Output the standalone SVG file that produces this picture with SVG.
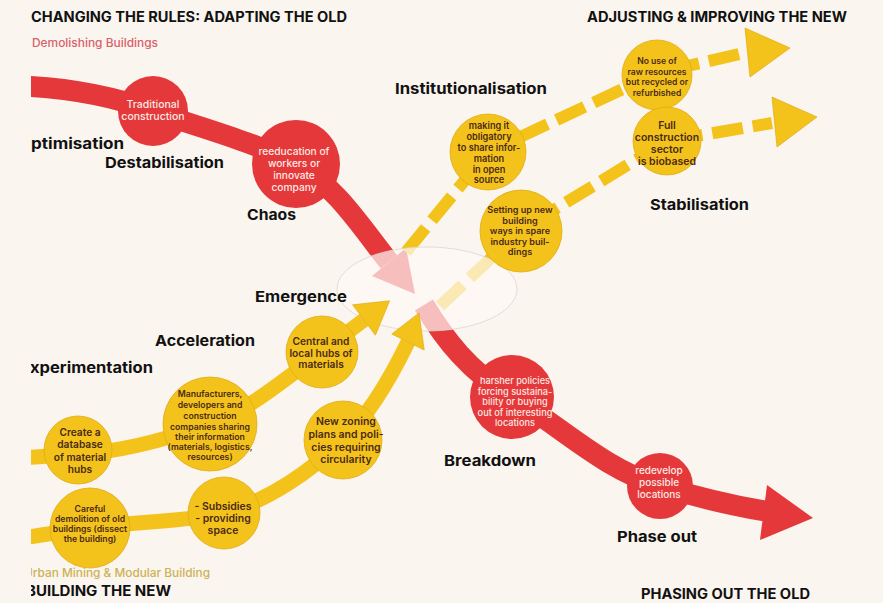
<svg xmlns="http://www.w3.org/2000/svg" width="883" height="603" viewBox="0 0 883 603">
  <defs>
    <clipPath id="page"><rect x="31" y="0" width="852" height="603"/></clipPath>
    <style>
      text{font-family:Inter,"Open Sans","Noto Sans",sans-serif}
      .band-r{fill:none;stroke:#e4383b;stroke-width:21}
      .band-y{fill:none;stroke:#f4c31b;stroke-width:15}
      .dash-y{fill:none;stroke:#f4c31b;stroke-width:12;stroke-dasharray:31 10}
      .head-r{fill:#e4383b}
      .head-y{fill:#f4c31b;stroke:#e0ab12;stroke-width:0.7}
      .node-r{fill:#e4383b}
      .node-y{fill:#f4c31b;stroke:#e0ab12;stroke-width:0.8}
      .zone{fill:#fdfaf5;fill-opacity:0.7;stroke:#d9d6d2;stroke-width:0.8}
      .head{font-weight:700;font-size:14px;fill:#111}
      .sub{font-weight:500;font-size:11.5px}
      .stage{font-weight:700;font-size:15px;fill:#111}
      .tr{fill:#fde9e2;text-anchor:middle;font-weight:500}
      .ty{fill:#4a2a18;text-anchor:middle;font-weight:600}
    </style>
  </defs>

  <rect width="883" height="603" fill="#fbf5ef"/>

  <g clip-path="url(#page)">
    <!-- connectors drawn beneath the emergence zone -->
    <g id="connectors">
      <!-- old regime: red band into the zone -->
      <path class="band-r" d="M20,86 C70,88 115,97 153,111 C200,128 250,140 296,164 C335,185 362,228 389,262"/>
      <polygon class="head-r" points="406,248 372,276 415,294"/>
      <!-- old regime: red band out of the zone -->
      <path class="band-r" d="M424,305 C445,340 470,372 512,397 C560,426 605,470 660,486 C700,498 735,506 765,511"/>
      <polygon class="head-r" points="767,485 760,540 813,518"/>
      <!-- new regime: dashed yellow paths -->
      <path class="dash-y" d="M406,252 L488,152 L657,73 L748,52"/>
      <polygon class="head-y" points="745,28 750,77 790,48"/>
      <path class="dash-y" d="M440,306 L521,230 L667,141 L772,123"/>
      <polygon class="head-y" points="772,97 777,147 817,117"/>
    </g>

    <g id="emergence-zone">
      <ellipse class="zone" cx="427" cy="289" rx="90" ry="42"/>
    </g>

    <!-- niche paths rising towards the zone -->
    <g id="connectors-niche">
      <path class="band-y" d="M20,458 C40,457 58,455 78,454 C120,452 165,440 210,424 C250,410 290,375 322,352 C338,340 350,330 364,320"/>
      <polygon class="head-y" points="352.6,304.8 375.4,335.2 389.6,300.8"/>
      <path class="band-y" d="M20,538 C45,535 65,531 90,528 C140,521 185,522 224,513 C270,500 312,470 343,440 C370,414 392,375 408,342"/>
      <polygon class="head-y" points="391.8,334 424.2,350 419,313"/>
    </g>

    <!-- titles -->
    <text class="head" x="31" y="22" textLength="316" lengthAdjust="spacingAndGlyphs">CHANGING THE RULES: ADAPTING THE OLD</text>
    <text class="sub" x="32" y="47" fill="#d8606a" textLength="126" lengthAdjust="spacingAndGlyphs">Demolishing Buildings</text>
    <text class="head" x="587" y="22" textLength="260" lengthAdjust="spacingAndGlyphs">ADJUSTING &amp; IMPROVING THE NEW</text>
    <text class="head" x="641" y="599" textLength="169" lengthAdjust="spacingAndGlyphs">PHASING OUT THE OLD</text>
    <text class="sub" x="24" y="577" fill="#cbb255" textLength="186" lengthAdjust="spacingAndGlyphs">Urban Mining &amp; Modular Building</text>
    <text class="head" x="26" y="596" textLength="145" lengthAdjust="spacingAndGlyphs">BUILDING THE NEW</text>

    <!-- phase labels -->
    <text class="stage" x="18" y="149" textLength="106" lengthAdjust="spacingAndGlyphs">Optimisation</text>
    <text class="stage" x="105" y="168" textLength="119" lengthAdjust="spacingAndGlyphs">Destabilisation</text>
    <text class="stage" x="247" y="220" textLength="49" lengthAdjust="spacingAndGlyphs">Chaos</text>
    <text class="stage" x="395" y="94" textLength="152" lengthAdjust="spacingAndGlyphs">Institutionalisation</text>
    <text class="stage" x="650" y="210" textLength="99" lengthAdjust="spacingAndGlyphs">Stabilisation</text>
    <text class="stage" x="255" y="302" textLength="92" lengthAdjust="spacingAndGlyphs">Emergence</text>
    <text class="stage" x="155" y="346" textLength="100" lengthAdjust="spacingAndGlyphs">Acceleration</text>
    <text class="stage" x="20" y="373" textLength="133" lengthAdjust="spacingAndGlyphs">Experimentation</text>
    <text class="stage" x="444" y="466" textLength="92" lengthAdjust="spacingAndGlyphs">Breakdown</text>
    <text class="stage" x="617" y="542" textLength="80" lengthAdjust="spacingAndGlyphs">Phase out</text>

    <!-- red nodes -->
    <g id="traditional-construction">
      <circle class="node-r" cx="153" cy="111" r="35"/>
      <text class="tr" font-size="10.5"><tspan x="153" y="108">Traditional</tspan><tspan x="153" y="120">construction</tspan></text>
    </g>
    <g id="reeducation">
      <circle class="node-r" cx="296" cy="164" r="44"/>
      <text class="tr" font-size="10.2"><tspan x="294" y="155">reeducation of</tspan><tspan x="294" y="167">workers or</tspan><tspan x="294" y="179">innovate</tspan><tspan x="294" y="191">company</tspan></text>
    </g>
    <g id="harsher-policies">
      <circle class="node-r" cx="512" cy="397" r="42"/>
      <text class="tr" font-size="9.2"><tspan x="515" y="384">harsher policies</tspan><tspan x="515" y="394.5">forcing sustaina-</tspan><tspan x="515" y="405">bility or buying</tspan><tspan x="515" y="415.5">out of interesting</tspan><tspan x="515" y="426">locations</tspan></text>
    </g>
    <g id="redevelop">
      <circle class="node-r" cx="660" cy="486" r="33"/>
      <text class="tr" font-size="10"><tspan x="659" y="474">redevelop</tspan><tspan x="659" y="486">possible</tspan><tspan x="659" y="498">locations</tspan></text>
    </g>

    <!-- yellow nodes: new regime -->
    <g id="open-source">
      <circle class="node-y" cx="488" cy="152" r="38"/>
      <text class="ty" font-size="9.2"><tspan x="489" y="129">making it</tspan><tspan x="489" y="140">obligatory</tspan><tspan x="489" y="151">to share infor-</tspan><tspan x="489" y="162">mation</tspan><tspan x="489" y="173">in open</tspan><tspan x="489" y="183">source</tspan></text>
    </g>
    <g id="spare-industry">
      <circle class="node-y" cx="521" cy="231" r="41"/>
      <text class="ty" font-size="9.1"><tspan x="520" y="213">Setting up new</tspan><tspan x="520" y="223.5">building</tspan><tspan x="520" y="234">ways in spare</tspan><tspan x="520" y="244.5">industry buil-</tspan><tspan x="520" y="255">dings</tspan></text>
    </g>
    <g id="no-raw-resources">
      <circle class="node-y" cx="657" cy="75" r="35"/>
      <text class="ty" font-size="8.6"><tspan x="657" y="64">No use of</tspan><tspan x="657" y="74.5">raw resources</tspan><tspan x="657" y="85">but recycled or</tspan><tspan x="657" y="95.5">refurbished</tspan></text>
    </g>
    <g id="biobased">
      <circle class="node-y" cx="667" cy="141" r="34"/>
      <text class="ty" font-size="10.5"><tspan x="667" y="129">Full</tspan><tspan x="667" y="141">construction</tspan><tspan x="667" y="153">sector</tspan><tspan x="667" y="165">is biobased</tspan></text>
    </g>

    <!-- yellow nodes: niche experiments -->
    <g id="material-database">
      <circle class="node-y" cx="78" cy="450" r="34"/>
      <text class="ty" font-size="10.2"><tspan x="80" y="436">Create a</tspan><tspan x="80" y="448.4">database</tspan><tspan x="80" y="460.8">of material</tspan><tspan x="80" y="473.2">hubs</tspan></text>
    </g>
    <g id="sharing-information">
      <circle class="node-y" cx="210" cy="424" r="47"/>
      <text class="ty" font-size="8.7"><tspan x="210" y="397">Manufacturers,</tspan><tspan x="210" y="408">developers and</tspan><tspan x="210" y="419">construction</tspan><tspan x="210" y="430">companies sharing</tspan><tspan x="210" y="440">their information</tspan><tspan x="210" y="450">(materials, logistics,</tspan><tspan x="210" y="460">resources)</tspan></text>
    </g>
    <g id="material-hubs">
      <circle class="node-y" cx="322" cy="352" r="36"/>
      <text class="ty" font-size="10.2"><tspan x="321" y="345">Central and</tspan><tspan x="321" y="357">local hubs of</tspan><tspan x="321" y="368">materials</tspan></text>
    </g>
    <g id="careful-demolition">
      <circle class="node-y" cx="90" cy="528" r="40"/>
      <text class="ty" font-size="8.7"><tspan x="90" y="512">Careful</tspan><tspan x="90" y="522">demolition of old</tspan><tspan x="90" y="532">buildings (dissect</tspan><tspan x="90" y="542">the building)</tspan></text>
    </g>
    <g id="subsidies">
      <circle class="node-y" cx="224" cy="513" r="36"/>
      <text class="ty" font-size="10.5"><tspan x="223" y="510">- Subsidies</tspan><tspan x="223" y="522">- providing</tspan><tspan x="223" y="534">space</tspan></text>
    </g>
    <g id="zoning-plans">
      <circle class="node-y" cx="343" cy="440" r="39"/>
      <text class="ty" font-size="10.5"><tspan x="346" y="425">New zoning</tspan><tspan x="346" y="438">plans and poli-</tspan><tspan x="346" y="451">cies requiring</tspan><tspan x="346" y="463">circularity</tspan></text>
    </g>
  </g>
</svg>
